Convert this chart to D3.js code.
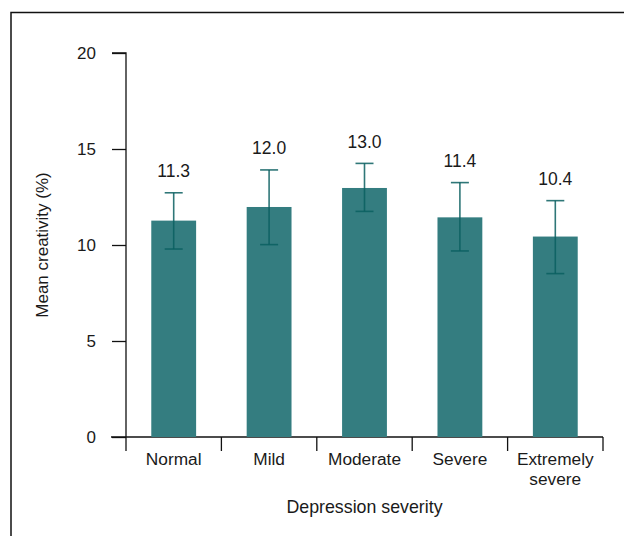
<!DOCTYPE html>
<html>
<head>
<meta charset="utf-8">
<script src="https://cdn.jsdelivr.net/npm/d3@7"></script>
<style>
  body { margin: 0; background: #fff; }
  text { font-family: "Liberation Sans", Arial, sans-serif; fill: #1a1a1a; }
</style>
</head>
<body>
<svg width="624" height="536"></svg>
<script>
const categories = [["Normal"], ["Mild"], ["Moderate"], ["Severe"], ["Extremely", "severe"]];
const means = [11.27, 11.98, 12.97, 11.44, 10.44];
const errLow = [9.79, 10.02, 11.75, 9.69, 8.51];
const errHigh = [12.72, 13.91, 14.25, 13.25, 12.31];
const yTicks = [0, 5, 10, 15, 20];

const data = categories.map((c, i) => ({
    key: c.join(" "), lines: c, mean: means[i], lo: errLow[i], hi: errHigh[i]
}));

const svg = d3.select("svg");

// outer frame, runs off the right and bottom edges
svg.append("rect")
    .attr("x", 11).attr("y", 12.5)
    .attr("width", 700).attr("height", 600)
    .attr("fill", "none")
    .attr("stroke", "#111")
    .attr("stroke-width", 1.5);

const plotLeft = 126, plotRight = 603, plotTop = 53, plotBottom = 437;

const xScale = d3.scaleBand()
    .domain(data.map(d => d.key))
    .range([plotLeft, plotRight])
    .paddingInner(0.53)
    .paddingOuter(0.265);

const yScale = d3.scaleLinear()
    .domain([0, 20])
    .range([plotBottom, plotTop]);

// y axis
const yAxis = svg.append("g")
    .attr("transform", `translate(${plotLeft},0)`)
    .call(d3.axisLeft(yScale).tickValues(yTicks).tickSize(14).tickPadding(16));
yAxis.select(".domain").attr("d", `M-14,${plotTop}H0V${plotBottom}`);
yAxis.selectAll("line, path").attr("stroke", "#111").attr("stroke-width", 1.3);
yAxis.selectAll("text").attr("font-size", 17).attr("fill", "#1a1a1a");

// x axis: ticks at band boundaries
const xg = svg.append("g");
xg.append("line")
    .attr("x1", plotLeft - 15).attr("x2", plotRight)
    .attr("y1", plotBottom).attr("y2", plotBottom)
    .attr("stroke", "#111").attr("stroke-width", 1.3);
const step = xScale.step();
const boundaries = d3.range(data.length + 1).map(i => plotLeft + i * step);
xg.selectAll(".xt")
    .data(boundaries)
    .enter().append("line")
    .attr("x1", d => d).attr("x2", d => d)
    .attr("y1", plotBottom).attr("y2", plotBottom + 14)
    .attr("stroke", "#111").attr("stroke-width", 1.3);

xg.selectAll(".xl")
    .data(data)
    .enter().append("text")
    .attr("text-anchor", "middle")
    .attr("font-size", 17.3)
    .attr("transform", d => `translate(${xScale(d.key) + xScale.bandwidth() / 2},464.5)`)
    .selectAll("tspan")
    .data(d => d.lines)
    .enter().append("tspan")
    .attr("x", 0)
    .attr("y", (d, i) => i * 20.5)
    .text(d => d);

// bars
svg.selectAll(".bar")
    .data(data)
    .enter().append("rect")
    .attr("x", d => xScale(d.key))
    .attr("width", xScale.bandwidth())
    .attr("y", d => yScale(d.mean))
    .attr("height", d => yScale(0) - yScale(d.mean))
    .attr("fill", "#347d80");

// error bars
const eb = svg.selectAll(".err")
    .data(data)
    .enter().append("g")
    .attr("stroke", "#0a5f60")
    .attr("stroke-opacity", 0.85)
    .attr("stroke-width", 1.6);
const cx = d => xScale(d.key) + xScale.bandwidth() / 2;
eb.append("line")
    .attr("x1", cx).attr("x2", cx)
    .attr("y1", d => yScale(d.hi)).attr("y2", d => yScale(d.lo));
eb.append("line")
    .attr("x1", d => cx(d) - 9).attr("x2", d => cx(d) + 9)
    .attr("y1", d => yScale(d.hi)).attr("y2", d => yScale(d.hi));
eb.append("line")
    .attr("x1", d => cx(d) - 9).attr("x2", d => cx(d) + 9)
    .attr("y1", d => yScale(d.lo)).attr("y2", d => yScale(d.lo));

// value labels
svg.selectAll(".val")
    .data(data)
    .enter().append("text")
    .attr("x", cx)
    .attr("y", d => yScale(d.hi) - 15.5)
    .attr("text-anchor", "middle")
    .attr("font-size", 17.5)
    .text(d => d3.format(".1f")(d.mean));

// axis titles
svg.append("text")
    .attr("x", (plotLeft + plotRight) / 2)
    .attr("y", 513)
    .attr("text-anchor", "middle")
    .attr("font-size", 17.8)
    .text("Depression severity");

svg.append("text")
    .attr("transform", `translate(48,${(plotTop + plotBottom) / 2}) rotate(-90)`)
    .attr("text-anchor", "middle")
    .attr("font-size", 17)
    .text("Mean creativity (%)");
</script>
</body>
</html>
